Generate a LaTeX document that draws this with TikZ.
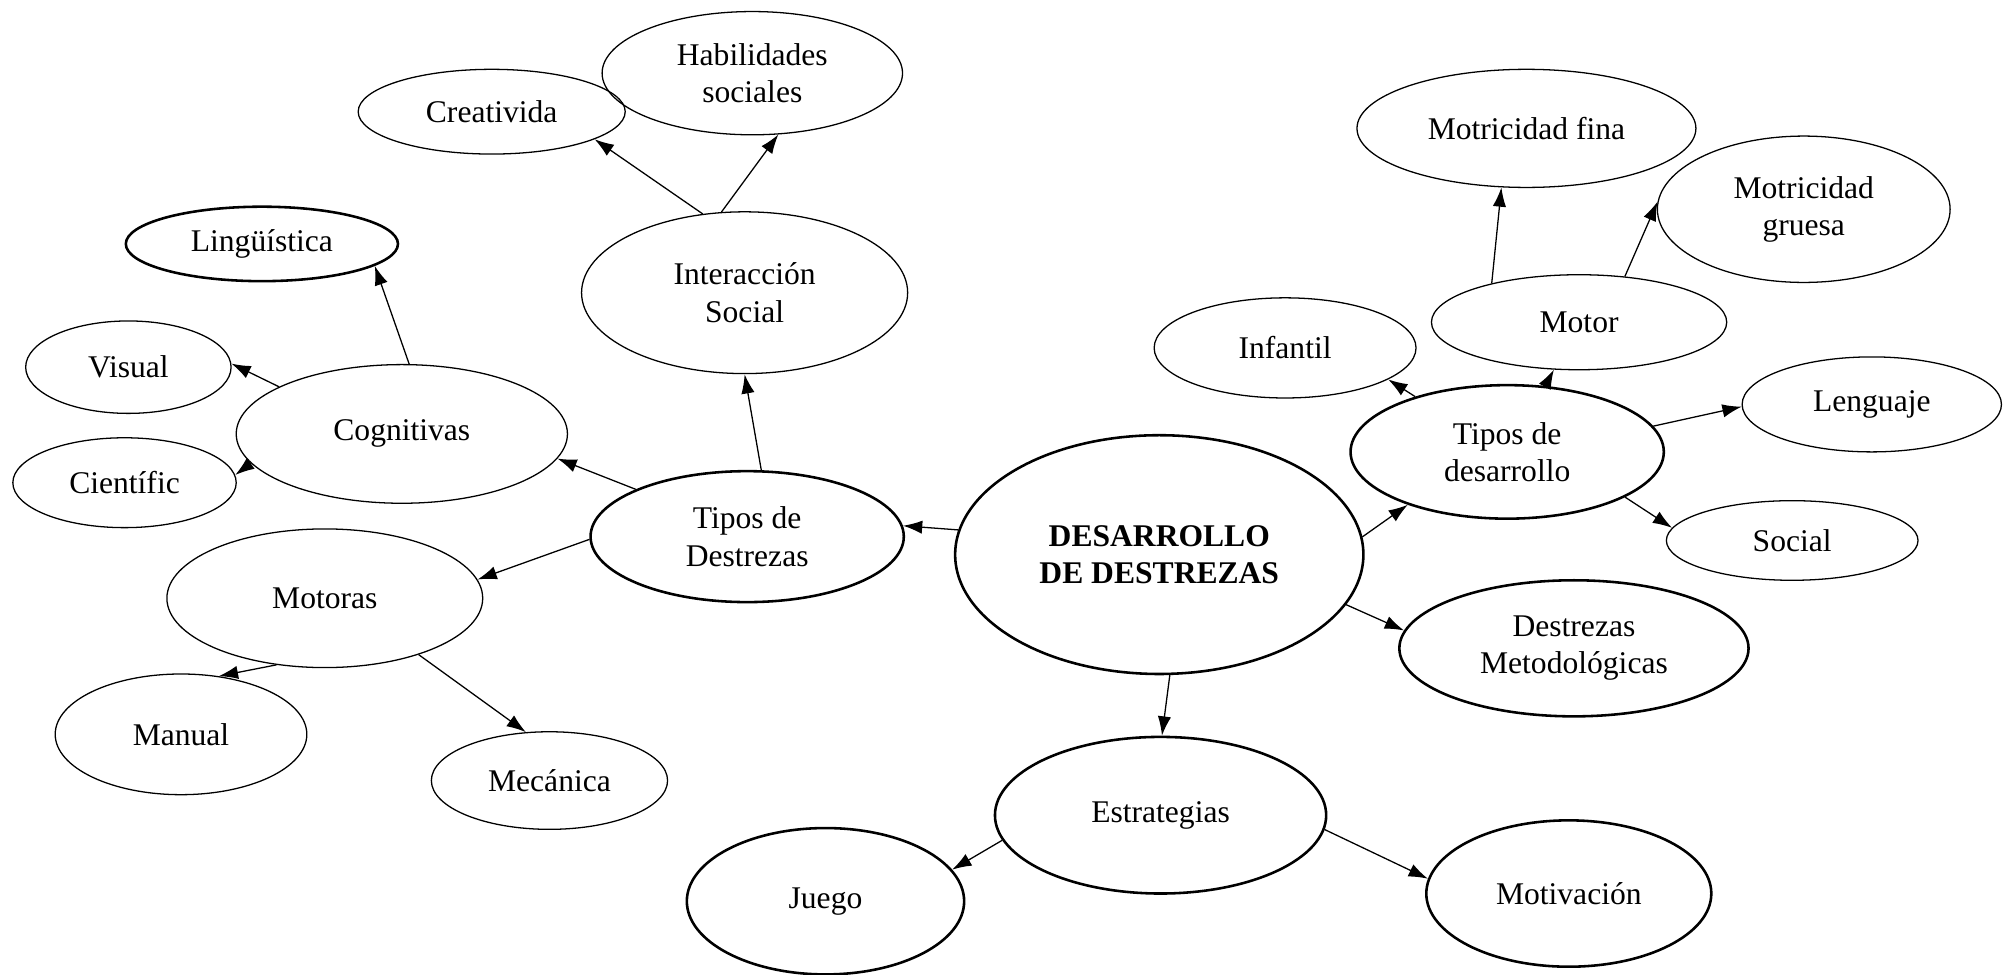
\documentclass[tikz,border=0pt]{standalone}
\usepackage{fontspec}
\setmainfont{Liberation Serif}
\usetikzlibrary{shapes.geometric,arrows.meta}
\begin{document}
\begin{tikzpicture}[x=0.5pt,y=-0.5pt,
  bub/.style={ellipse,draw,line width=0.5pt,inner sep=0pt,align=center,
    font=\fontsize{12.3pt}{14.5pt}\selectfont},
  bubt/.style={bub,line width=1pt},
  con/.style={line width=0.5pt,-{Latex[length=7.5pt,width=5.2pt]}}]
\useasboundingbox (0,0) rectangle (1568,759);
\fill[white] (0,0) rectangle (1568,759);
% nodes
\node[bub,minimum width=104pt,minimum height=33pt] (cre) at (383,87) {Creativida};
\node[bub,minimum width=117pt,minimum height=48pt] (hab) at (586,57) {Habilidades\\sociales};
\node[bub,minimum width=127pt,minimum height=63pt] (is) at (580,228) {Interacción\\Social};
\node[bubt,minimum width=106pt,minimum height=29pt] (lin) at (204,190) {Lingüística};
\node[bub,minimum width=80pt,minimum height=36pt] (vis) at (100,286) {Visual};
\node[bub,minimum width=129pt,minimum height=54pt] (cog) at (313,338) {Cognitivas};
\node[bub,minimum width=87pt,minimum height=35pt] (cie) at (97,376) {Científic};
\node[bubt,minimum width=122pt,minimum height=51pt] (td) at (582,418) {Tipos de\\Destrezas};
\node[bub,minimum width=123pt,minimum height=54pt] (mot) at (253,466) {Motoras};
\node[bub,minimum width=98pt,minimum height=47pt] (man) at (141,572) {Manual};
\node[bub,minimum width=92pt,minimum height=38pt] (mec) at (428,608) {Mecánica};
\node[bubt,minimum width=159pt,minimum height=93pt,font=\fontsize{12.3pt}{14.5pt}\selectfont\bfseries] (dd) at (903,432) {DESARROLLO\\DE DESTREZAS};
\node[bubt,minimum width=129pt,minimum height=61pt] (est) at (904,635) {Estrategias};
\node[bubt,minimum width=108pt,minimum height=57pt] (jue) at (643,702) {Juego};
\node[bubt,minimum width=111pt,minimum height=57pt] (motv) at (1222,696) {Motivación};
\node[bubt,minimum width=136pt,minimum height=53pt] (dm) at (1226,505) {Destrezas\\Metodológicas};
\node[bub,minimum width=98pt,minimum height=31pt] (soc) at (1396,421) {Social};
\node[bubt,minimum width=122pt,minimum height=52pt] (tdes) at (1174,352) {Tipos de\\desarrollo};
\node[bub,minimum width=101pt,minimum height=37pt] (len) at (1458,315) {Lenguaje};
\node[bub,minimum width=102pt,minimum height=39pt] (inf) at (1001,271) {Infantil};
\node[bub,minimum width=115pt,minimum height=37pt] (motr) at (1230,251) {Motor};
\node[bub,minimum width=132pt,minimum height=46pt] (mf) at (1189,100) {Motricidad fina};
\node[bub,minimum width=114pt,minimum height=57pt] (mg) at (1405,163) {Motricidad\\gruesa};
% connectors
\draw[con] (dd.173.5) -- (td.4);
\draw[con] (dd.5.5) -- (tdes.208);
\draw[con] (dd.345.5) -- (dm.174);
\draw[con] (dd.275.5) -- (est.89);
\draw[con] (est.189) -- (jue.14);
\draw[con] (est.355.6) -- (motv.174);
\draw[con] (td.78) -- (is.270);
\draw[con] (td.157) -- (cog.351);
\draw[con] (td.181) -- (mot.7);
\draw[con] (mot.234) -- (man.57);
\draw[con] (mot.329.5) -- (mec.116.6);
\draw[con] (cog.84) -- (lin.349.5);
\draw[con] (cog.159) -- (vis.2);
\draw[con] (cog.191.7) -- (cie.4.3);
\draw[con] (is.118) -- (cre.345.4);
\draw[con] (is.106.3) -- (hab.293.2);
\draw[con] (tdes.149.6) -- (inf.343.2);
\draw[con] (tdes.60.4) -- (motr.242.2);
\draw[con] (tdes.10.7) -- (len.181.2);
\draw[con] (tdes.339.6) -- (soc.174.8);
\draw[con] (motr.156.3) -- (mf.247.6);
\draw[con] (motr.45) -- (mg.177.4);
\end{tikzpicture}
\end{document}
